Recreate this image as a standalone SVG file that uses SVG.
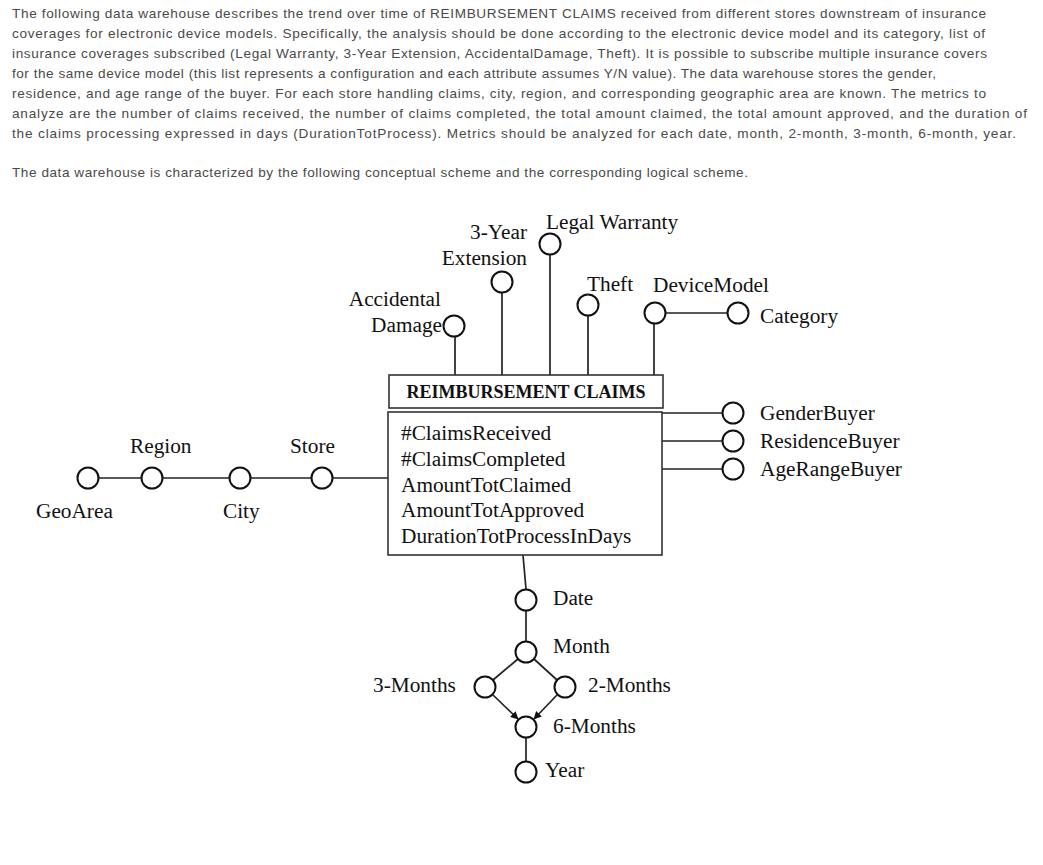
<svg xmlns="http://www.w3.org/2000/svg" width="1043" height="865" viewBox="0 0 1043 865">
<style>
.p{font-family:"Liberation Sans",Arial,sans-serif;font-size:13.6px;fill:#4a4a4a}
.t{font-family:"Liberation Serif","Times New Roman",serif;font-size:21.3px;fill:#111}
.h{font-family:"Liberation Serif","Times New Roman",serif;font-size:18px;font-weight:bold;fill:#111}
.c{fill:#fff;stroke:#111;stroke-width:2}
.l{stroke:#222;stroke-width:1.7;fill:none}
.b{fill:#fff;stroke:#333;stroke-width:1.6}
</style>
<defs>
<marker id="arr" viewBox="0 0 10 10" refX="9" refY="5" markerWidth="8" markerHeight="8" markerUnits="userSpaceOnUse" orient="auto">
<path d="M0,0 L10,5 L0,10 z" fill="#111"/>
</marker>
</defs>
<rect width="1043" height="865" fill="#fff"/>
<g id="description">
<text class="p" x="12" y="18" textLength="974" lengthAdjust="spacing">The following data warehouse describes the trend over time of REIMBURSEMENT CLAIMS received from different stores downstream of insurance</text>
<text class="p" x="12" y="38" textLength="973" lengthAdjust="spacing">coverages for electronic device models. Specifically, the analysis should be done according to the electronic device model and its category, list of</text>
<text class="p" x="12" y="58" textLength="975" lengthAdjust="spacing">insurance coverages subscribed (Legal Warranty, 3-Year Extension, AccidentalDamage, Theft). It is possible to subscribe multiple insurance covers</text>
<text class="p" x="12" y="78" textLength="924" lengthAdjust="spacing">for the same device model (this list represents a configuration and each attribute assumes Y/N value). The data warehouse stores the gender,</text>
<text class="p" x="12" y="98" textLength="974" lengthAdjust="spacing">residence, and age range of the buyer. For each store handling claims, city, region, and corresponding geographic area are known. The metrics to</text>
<text class="p" x="12" y="118" textLength="1015" lengthAdjust="spacing">analyze are the number of claims received, the number of claims completed, the total amount claimed, the total amount approved, and the duration of</text>
<text class="p" x="12" y="138" textLength="1004" lengthAdjust="spacing">the claims processing expressed in days (DurationTotProcess). Metrics should be analyzed for each date, month, 2-month, 3-month, 6-month, year.</text>
<text class="p" x="12" y="177" textLength="736" lengthAdjust="spacing">The data warehouse is characterized by the following conceptual scheme and the corresponding logical scheme.</text>
</g>
<g id="connectors">
<line class="l" x1="455" y1="337" x2="455" y2="375"/>
<line class="l" x1="502" y1="293" x2="502" y2="375"/>
<line class="l" x1="550" y1="255" x2="550" y2="377"/>
<line class="l" x1="588" y1="316" x2="588" y2="375"/>
<line class="l" x1="654" y1="324" x2="654" y2="375"/>
<line class="l" x1="666" y1="313" x2="727" y2="313"/>
<line class="l" x1="99" y1="478" x2="141" y2="478"/>
<line class="l" x1="163" y1="478" x2="229" y2="478"/>
<line class="l" x1="251" y1="478" x2="311" y2="478"/>
<line class="l" x1="333" y1="478" x2="388" y2="478"/>
<line class="l" x1="662" y1="413" x2="722" y2="413"/>
<line class="l" x1="662" y1="441" x2="722" y2="441"/>
<line class="l" x1="662" y1="469" x2="722" y2="469"/>
<line class="l" x1="523" y1="555" x2="526" y2="589"/>
<line class="l" x1="526" y1="611" x2="526" y2="641"/>
<line class="l" x1="518" y1="659" x2="493" y2="680"/>
<line class="l" x1="534" y1="659" x2="557" y2="680"/>
<line class="l" x1="493" y1="695" x2="518" y2="719" marker-end="url(#arr)"/>
<line class="l" x1="557" y1="695" x2="534" y2="719" marker-end="url(#arr)"/>
<line class="l" x1="526" y1="738" x2="526" y2="761"/>
</g>
<g id="fact">
<rect class="b" x="389" y="375" width="274" height="33"/>
<text class="h" x="526" y="398" text-anchor="middle">REIMBURSEMENT CLAIMS</text>
<rect class="b" x="388" y="412" width="274" height="143"/>
<text class="t" x="401" y="440">#ClaimsReceived</text>
<text class="t" x="401" y="466">#ClaimsCompleted</text>
<text class="t" x="401" y="492">AmountTotClaimed</text>
<text class="t" x="401" y="517">AmountTotApproved</text>
<text class="t" x="401" y="543">DurationTotProcessInDays</text>
</g>
<g id="accidental-damage"><circle class="c" cx="454" cy="326" r="10.5"/><text class="t" x="441" y="306" text-anchor="end">Accidental</text><text class="t" x="442" y="332" text-anchor="end">Damage</text></g>
<g id="three-year-extension"><circle class="c" cx="502" cy="282" r="10.5"/><text class="t" x="527" y="239" text-anchor="end">3-Year</text><text class="t" x="527" y="265" text-anchor="end">Extension</text></g>
<g id="legal-warranty"><circle class="c" cx="550" cy="244" r="10.5"/><text class="t" x="546" y="229">Legal Warranty</text></g>
<g id="theft"><circle class="c" cx="588" cy="305" r="10.5"/><text class="t" x="587" y="291">Theft</text></g>
<g id="device-model"><circle class="c" cx="655" cy="313" r="10.5"/><text class="t" x="653" y="292">DeviceModel</text></g>
<g id="category"><circle class="c" cx="738" cy="313" r="10.5"/><text class="t" x="760" y="323">Category</text></g>
<g id="geoarea"><circle class="c" cx="88" cy="478" r="10.5"/><text class="t" x="36" y="518">GeoArea</text></g>
<g id="region"><circle class="c" cx="152" cy="478" r="10.5"/><text class="t" x="130" y="453">Region</text></g>
<g id="city"><circle class="c" cx="240" cy="478" r="10.5"/><text class="t" x="223" y="518">City</text></g>
<g id="store"><circle class="c" cx="322" cy="478" r="10.5"/><text class="t" x="290" y="453">Store</text></g>
<g id="gender-buyer"><circle class="c" cx="733" cy="413" r="10.5"/><text class="t" x="760" y="420">GenderBuyer</text></g>
<g id="residence-buyer"><circle class="c" cx="733" cy="441" r="10.5"/><text class="t" x="760" y="448">ResidenceBuyer</text></g>
<g id="agerange-buyer"><circle class="c" cx="733" cy="469" r="10.5"/><text class="t" x="760" y="476">AgeRangeBuyer</text></g>
<g id="date"><circle class="c" cx="526" cy="600" r="10.5"/><text class="t" x="553" y="605">Date</text></g>
<g id="month"><circle class="c" cx="526" cy="652" r="10.5"/><text class="t" x="553" y="653">Month</text></g>
<g id="three-months"><circle class="c" cx="485" cy="687" r="10.5"/><text class="t" x="373" y="692">3-Months</text></g>
<g id="two-months"><circle class="c" cx="565" cy="687" r="10.5"/><text class="t" x="588" y="692">2-Months</text></g>
<g id="six-months"><circle class="c" cx="526" cy="727" r="10.5"/><text class="t" x="553" y="733">6-Months</text></g>
<g id="year"><circle class="c" cx="526" cy="772" r="10.5"/><text class="t" x="545" y="777">Year</text></g>
</svg>
